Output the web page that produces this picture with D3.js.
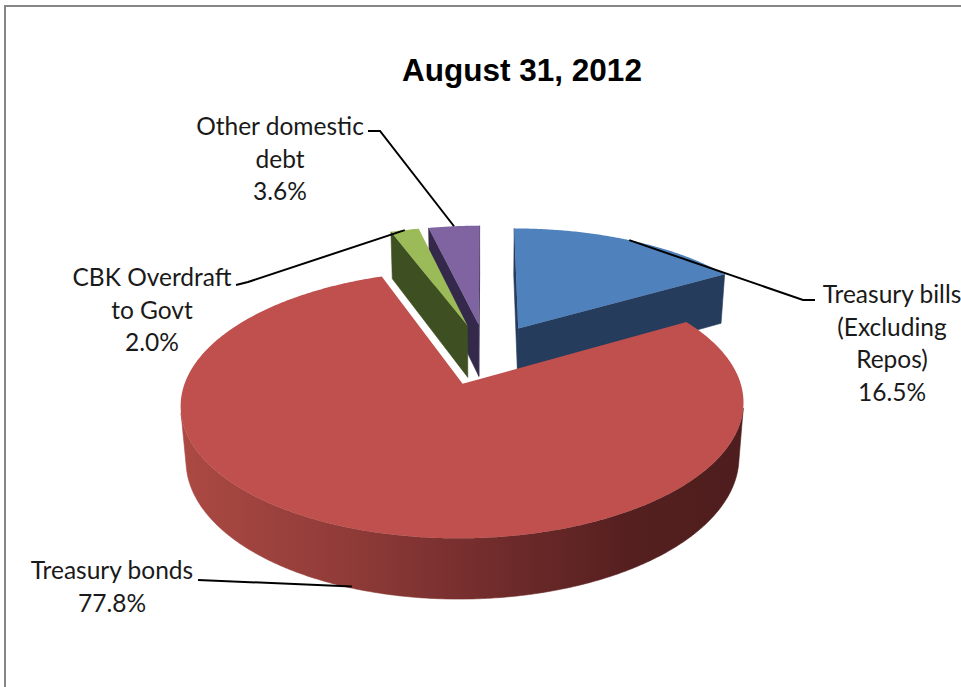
<!DOCTYPE html>
<html>
<head>
<meta charset="utf-8">
<script src="https://cdn.jsdelivr.net/npm/d3@7"></script>
<style>
  body { margin: 0; background: #fff; }
  svg { display: block; }
</style>
</head>
<body>
<div id="chart"></div>
<script>
// domestic debt by instrument, share of total
var chartTitle = "August 31, 2012";
var categories = ["Treasury bills (Excluding Repos)", "Treasury bonds", "CBK Overdraft to Govt", "Other domestic debt"];
var shares = [16.5, 77.8, 2.0, 3.6];
var labelLines = [["Treasury bills", "(Excluding", "Repos)"], ["Treasury bonds"], ["CBK Overdraft", "to Govt"], ["Other domestic", "debt"]];

var W = 961, H = 687;

// colours: top face, cut face
var topColor = ["#4f81bd", "#c0504d", "#9bbb59", "#8064a2"];
var sideColor = ["#263c5c", "#8a3936", "#3e4f22", "#34294a"];

// label placement (centre x, first baseline) and leader elbows
var labelLayout = [
    { x: 892, y: 303, lead: [[815, 300], [803, 300]], anchorH: 0 },
    { x: 112, y: 579, lead: [[198, 580]], anchorH: -0.97 },
    { x: 152, y: 286, lead: [[236, 285], [248, 282]], anchorH: 0 },
    { x: 280, y: 135, lead: [[368, 131], [380, 131]], anchorH: 0 }
];
var lineGap = 32.5;

// simple perspective camera for the 3d pie (radius 1)
var cam = { f: 1610, D: 6, tilt: 27 * Math.PI / 180, ox: 486, oy: 354 };
var explode = 0.25, thick = 0.225;

var ct = Math.cos(cam.tilt), st = Math.sin(cam.tilt);
var camPos = [0, cam.D * st, -cam.D * ct];

function depthOf(X, Y, Z) { return cam.D + Z * ct - Y * st; }
function proj(X, Y, Z) {
    var d = depthOf(X, Y, Z);
    var up = Z * st + Y * ct;
    return [cam.ox + cam.f * X / d, cam.oy - cam.f * up / d];
}
function facing(n, p) {
    return n[0] * (camPos[0] - p[0]) + n[1] * (camPos[1] - p[1]) + n[2] * (camPos[2] - p[2]) > 0;
}

var svg = d3.select("#chart").append("svg")
    .attr("width", W)
    .attr("height", H);

// chart frame (right / bottom edges run off the picture)
svg.append("rect")
    .attr("x", 5).attr("y", 6)
    .attr("width", W + 20).attr("height", H + 20)
    .attr("fill", "#fff")
    .attr("stroke", "#868686")
    .attr("stroke-width", 2);

svg.append("text")
    .attr("x", 522)
    .attr("y", 81)
    .attr("text-anchor", "middle")
    .style("font-family", "'Liberation Sans', Arial, sans-serif")
    .style("font-weight", "bold")
    .style("font-size", "31.5px")
    .attr("fill", "#000")
    .text(chartTitle);

var data = categories.map(function (c, i) {
    return { name: c, share: shares[i], lines: labelLines[i], idx: i };
});

var pie = d3.pie().sort(null).value(function (d) { return d.share; });
var slices = pie(data);

slices.forEach(function (s) {
    var mid = (s.startAngle + s.endAngle) / 2;
    s.mid = mid;
    s.ex = explode * Math.sin(mid);
    s.ez = explode * Math.cos(mid);
});

function world(s, r, a, y) {
    return [s.ex + r * Math.sin(a), y, s.ez + r * Math.cos(a)];
}
function scr(p) { return proj(p[0], p[1], p[2]); }

var line = d3.line();
var faces = [];
var step = Math.PI / 360;

// gradient for the curved front of the big slice
var defs = svg.append("defs");
var redX = [];

slices.forEach(function (s) {
    var i = s.data.idx;
    var apexTop = [s.ex, 0, s.ez], apexBot = [s.ex, -thick, s.ez];

    // cut faces
    [[s.startAngle, [-Math.cos(s.startAngle), 0, Math.sin(s.startAngle)]],
     [s.endAngle, [Math.cos(s.endAngle), 0, -Math.sin(s.endAngle)]]].forEach(function (cut) {
        var a = cut[0];
        var outTop = world(s, 1, a, 0), outBot = world(s, 1, a, -thick);
        var midP = world(s, 0.5, a, -thick / 2);
        if (!facing(cut[1], midP)) return;
        faces.push({
            pts: [apexTop, outTop, outBot, apexBot].map(scr),
            depth: depthOf(midP[0], midP[1], midP[2]),
            fill: sideColor[i]
        });
    });

    // curved outer side, split in visible runs
    var angles = d3.range(s.startAngle, s.endAngle, step).concat([s.endAngle]);
    var run = [];
    function flush() {
        if (run.length > 1) {
            var top = run.map(function (a) { return scr(world(s, 1, a, 0)); });
            var bot = run.map(function (a) { return scr(world(s, 1, a, -thick)); }).reverse();
            var m = world(s, 1, run[Math.floor(run.length / 2)], -thick / 2);
            faces.push({
                pts: top.concat(bot),
                depth: depthOf(m[0], m[1], m[2]) - 0.5,
                fill: i === 1 ? "url(#sideGrad)" : sideColor[i]
            });
            if (i === 1) top.forEach(function (p) { redX.push(p[0]); });
        }
        run = [];
    }
    angles.forEach(function (a) {
        var p = world(s, 1, a, -thick / 2);
        if (facing([Math.sin(a), 0, Math.cos(a)], p)) run.push(a);
        else flush();
    });
    flush();

    // top face
    s.topPts = [scr(apexTop)].concat(angles.map(function (a) { return scr(world(s, 1, a, 0)); }));
});

var grad = defs.append("linearGradient")
    .attr("id", "sideGrad")
    .attr("gradientUnits", "userSpaceOnUse")
    .attr("x1", d3.min(redX)).attr("x2", d3.max(redX))
    .attr("y1", 0).attr("y2", 0);
[[0, "#ac4943"], [0.3, "#8f3b38"], [0.55, "#722c2c"], [0.8, "#551f1f"], [1, "#4e1d1d"]].forEach(function (st) {
    grad.append("stop").attr("offset", st[0]).attr("stop-color", st[1]);
});

faces.sort(function (a, b) { return b.depth - a.depth; });

svg.append("g").attr("class", "sides")
    .selectAll("path")
    .data(faces)
    .join("path")
    .attr("d", function (d) { return line(d.pts) + "Z"; })
    .attr("fill", function (d) { return d.fill; })
    .attr("stroke", function (d) { return d.fill; })
    .attr("stroke-width", 0.6);

svg.append("g").attr("class", "tops")
    .selectAll("path")
    .data(slices)
    .join("path")
    .attr("d", function (d) { return line(d.topPts) + "Z"; })
    .attr("fill", function (d) { return topColor[d.data.idx]; });

// leader lines
var fmt = d3.format(".1f");
svg.append("g").attr("class", "leaders")
    .selectAll("path")
    .data(slices)
    .join("path")
    .attr("d", function (d) {
        var L = labelLayout[d.data.idx];
        var anchor = scr(world(d, 1, d.mid, L.anchorH * thick));
        return line(L.lead.concat([anchor]));
    })
    .attr("fill", "none")
    .attr("stroke", "#000")
    .attr("stroke-width", 2);

// labels
var labels = svg.append("g").attr("class", "labels")
    .selectAll("text")
    .data(slices)
    .join("text")
    .attr("text-anchor", "middle")
    .style("font-family", "Lato, 'Open Sans', sans-serif")
    .style("font-size", "24.5px")
    .attr("fill", "#1a1a1a");

labels.selectAll("tspan")
    .data(function (d) {
        var L = labelLayout[d.data.idx];
        return d.data.lines.concat([fmt(d.data.share) + "%"]).map(function (t, k) {
            return { t: t, x: L.x, y: L.y + k * lineGap };
        });
    })
    .join("tspan")
    .attr("x", function (d) { return d.x; })
    .attr("y", function (d) { return d.y; })
    .text(function (d) { return d.t; });
</script>
</body>
</html>
